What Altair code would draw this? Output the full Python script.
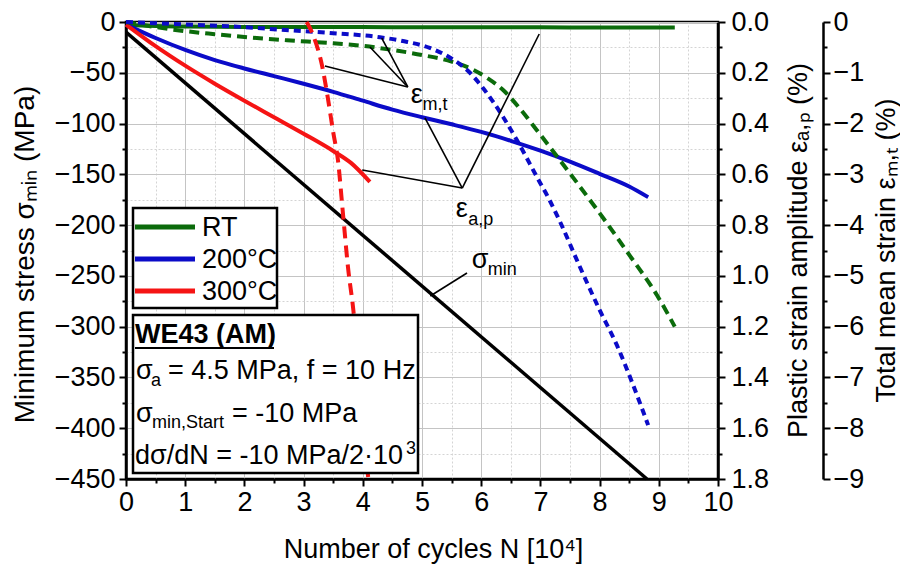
import altair as alt
import pandas as pd

FONT = "Liberation Sans"

# ---------------- data ----------------
temps = ["RT", "200°C", "300°C"]
colors = ["#0b6b0b", "#0b0bc8", "#f51414"]
dashes = [[10, 6], [7, 5], [12, 7]]

# minimum stress sigma_min (MPa) vs N [10^4]
n_sigma = [0.0, 8.8]
sigma_min = [-10.0, -450.0]

# plastic strain amplitude eps_a,p (%)
n_ap_rt = [0.0, 0.5, 1.0, 2.0, 3.0, 4.0, 5.0, 6.0, 7.0, 8.0, 9.0, 9.27]
ap_rt = [0.012, 0.016, 0.018, 0.02, 0.02, 0.02, 0.021, 0.021, 0.021, 0.022, 0.022, 0.022]
n_ap_200 = [0.0, 0.5, 1.0, 1.5, 2.0, 2.5, 3.0, 3.5, 4.0, 4.5, 5.0, 5.5, 6.0, 6.5, 7.0, 7.5, 8.0, 8.5, 8.82]
ap_200 = [0.01, 0.063, 0.11, 0.15, 0.183, 0.213, 0.243, 0.275, 0.31, 0.345, 0.375, 0.403, 0.433,
          0.468, 0.507, 0.55, 0.598, 0.648, 0.69]
n_ap_300 = [0.0, 0.5, 1.0, 1.5, 2.0, 2.5, 3.0, 3.5, 3.8, 4.12]
ap_300 = [0.01, 0.095, 0.172, 0.243, 0.31, 0.375, 0.44, 0.508, 0.555, 0.63]

# total mean strain eps_m,t (%)
n_mt_rt = [0.0, 0.5, 1.0, 1.5, 2.26, 2.72, 3.5, 4.0, 4.5, 5.0, 5.5, 5.81, 6.1, 6.37, 6.65,
           6.94, 7.25, 7.55, 8.06, 8.51, 8.97, 9.27]
mt_rt = [0.0, -0.1, -0.18, -0.24, -0.32, -0.36, -0.42, -0.47, -0.55, -0.65, -0.78, -0.91, -1.1,
         -1.34, -1.7, -2.13, -2.6, -3.06, -3.86, -4.6, -5.38, -6.0]
n_mt_200 = [0.0, 1.0, 2.0, 2.6, 3.5, 4.29, 4.7, 5.13, 5.47, 5.81, 6.03, 6.37, 6.6, 6.94, 7.16,
            7.33, 7.67, 8.0, 8.29, 8.55, 8.82]
mt_200 = [0.0, -0.05, -0.1, -0.15, -0.22, -0.3, -0.38, -0.51, -0.7, -1.0, -1.3, -1.87, -2.32,
          -3.05, -3.52, -3.93, -4.83, -5.67, -6.36, -7.1, -7.94]
n_mt_300 = [3.05, 3.1, 3.16, 3.31, 3.41, 3.5, 3.58, 3.67, 3.75, 3.84, 3.95, 4.09]
mt_300 = [0.0, -0.1, -0.26, -0.85, -1.5, -2.17, -2.72, -3.84, -4.83, -5.67, -7.1, -8.96]

# axis ticks
x_major = list(range(0, 11))
x_minor = [i + 0.5 for i in range(10)]
y_major = list(range(-450, 1, 50))
y_minor = list(range(-425, 0, 50))
ap_major = [round(0.2 * i, 1) for i in range(10)]
ap_minor = [round(0.1 + 0.2 * i, 1) for i in range(9)]
mt_major = list(range(-9, 1))
mt_minor = [-8.5 + i for i in range(9)]

# annotation pointers (N, MPa) and labels
ptr_x = [4.76, 4.76, 4.76, 5.68, 5.68, 5.68, 5.14]
ptr_y = [-64.0, -64.0, -64.0, -163.5, -163.5, -163.5, -269.8]
ptr_x2 = [3.36, 4.12, 4.32, 3.99, 5.05, 6.98, 5.76]
ptr_y2 = [-43.3, -24.6, -15.8, -145.7, -94.5, -11.8, -247.2]
lab_main = ["ε", "ε", "σ"]
lab_main_x = [4.81, 5.57, 5.84]
lab_main_y = [-79.8, -192.0, -242.2]
lab_sub = ["m,t", "a,p", "min"]
lab_sub_x = [5.01, 5.78, 6.11]
lab_sub_y = [-86.7, -199.9, -249.1]

# ---------------- tables ----------------
df_sigma = pd.DataFrame({"N": n_sigma, "sigma": sigma_min})
df_ap = pd.concat([
    pd.DataFrame({"N": n_ap_rt, "v": ap_rt, "temp": temps[0]}),
    pd.DataFrame({"N": n_ap_200, "v": ap_200, "temp": temps[1]}),
    pd.DataFrame({"N": n_ap_300, "v": ap_300, "temp": temps[2]}),
])
df_mt = pd.concat([
    pd.DataFrame({"N": n_mt_rt, "v": mt_rt, "temp": temps[0]}),
    pd.DataFrame({"N": n_mt_200, "v": mt_200, "temp": temps[1]}),
    pd.DataFrame({"N": n_mt_300, "v": mt_300, "temp": temps[2]}),
])
df_ptr = pd.DataFrame({"x": ptr_x, "y": ptr_y, "x2": ptr_x2, "y2": ptr_y2})
df_lab_main = pd.DataFrame({"x": lab_main_x, "y": lab_main_y, "t": lab_main})
df_lab_sub = pd.DataFrame({"x": lab_sub_x, "y": lab_sub_y, "t": lab_sub})
df_leg = pd.DataFrame({"temp": temps})
df_dummy = pd.DataFrame({"a": [5.0], "b": [-200.0], "c": [0.9], "d": [-4.0]})

W, H = 592, 457
xs = alt.Scale(domain=[0, 10], nice=False, zero=False)
ys_mpa = alt.Scale(domain=[-450, 0], nice=False, zero=False)
ys_ap = alt.Scale(domain=[0, 1.8], reverse=True, nice=False, zero=False)
ys_mt = alt.Scale(domain=[-9, 0], nice=False, zero=False)
color_scale = alt.Scale(domain=temps, range=colors)

GRID_MAJ = "#c4c4c4"
GRID_MIN = "#d4d4d4"

# ---------------- axes / grid layers ----------------
x_axis_layer = alt.Chart(df_dummy).mark_point(opacity=0).encode(
    x=alt.X("a:Q", scale=xs, axis=alt.Axis(
        orient="bottom", values=x_major, title="Number of cycles N [10⁴]",
        grid=True, gridColor=GRID_MAJ, gridWidth=1, tickSize=7, labelPadding=3,
        labelFlush=False, labelOverlap=False, titleX=307, titleY=78,
        titleBaseline="alphabetic", titleAlign="center")),
)
x_minor_layer = alt.Chart(df_dummy).mark_point(opacity=0).encode(
    x=alt.X("a:Q", scale=xs, axis=alt.Axis(
        orient="bottom", values=x_minor, labels=False, domain=False, title=None,
        grid=True, gridColor=GRID_MIN, gridDash=[2, 2], gridWidth=1, tickSize=4)),
)
y_minor_layer = alt.Chart(df_dummy).mark_point(opacity=0).encode(
    y=alt.Y("b:Q", scale=ys_mpa, axis=alt.Axis(
        orient="left", values=y_minor, labels=False, domain=False, title=None,
        grid=True, gridColor=GRID_MIN, gridDash=[2, 2], gridWidth=1, tickSize=4)),
)
ap_minor_layer = alt.Chart(df_dummy).mark_point(opacity=0).encode(
    y=alt.Y("c:Q", scale=ys_ap, axis=alt.Axis(
        orient="right", values=ap_minor, labels=False, domain=False, title=None,
        grid=False, tickSize=4)),
)
mt_minor_layer = alt.Chart(df_dummy).mark_point(opacity=0).encode(
    y=alt.Y("d:Q", scale=ys_mt, axis=alt.Axis(
        orient="right", offset=105, values=mt_minor, labels=False, domain=False,
        title=None, grid=False, tickSize=4)),
)

# ---------------- data layers ----------------
sigma_layer = alt.Chart(df_sigma).mark_line(color="black", strokeWidth=3.5).encode(
    x=alt.X("N:Q", scale=xs, axis=None),
    y=alt.Y("sigma:Q", scale=ys_mpa, axis=alt.Axis(
        orient="left", values=y_major, title="Minimum stress σₘᵢₙ (MPa)",
        grid=True, gridColor=GRID_MAJ, gridWidth=1, tickSize=7, labelPadding=4,
        labelOverlap=False, titleAngle=270, titleX=-93, titleY=232,
        titleAlign="center", titleBaseline="alphabetic", titleFontSize=28)),
)

ap_layer = alt.Chart(df_ap).mark_line(strokeWidth=4, interpolate="monotone").encode(
    x=alt.X("N:Q", scale=xs, axis=None),
    y=alt.Y("v:Q", scale=ys_ap, axis=alt.Axis(
        orient="right", values=ap_major, format=".1f",
        title="Plastic strain amplitude εₐ,ₚ (%)", grid=False, tickSize=7,
        labelPadding=6, labelOverlap=False, titleAngle=270, titleX=88, titleY=228,
        titleAlign="center", titleBaseline="alphabetic")),
    color=alt.Color("temp:N", scale=color_scale, legend=None),
)

mt_layer = alt.Chart(df_mt).mark_line(strokeWidth=4, interpolate="monotone").encode(
    x=alt.X("N:Q", scale=xs, axis=None),
    y=alt.Y("v:Q", scale=ys_mt, axis=alt.Axis(
        orient="right", offset=105, values=mt_major,
        title="Total mean strain εₘ,ₜ (%)", grid=False, tickSize=7,
        labelPadding=3, labelOverlap=False, titleAngle=270, titleX=71, titleY=228,
        titleAlign="center", titleBaseline="alphabetic")),
    color=alt.Color("temp:N", scale=color_scale, legend=None),
    strokeDash=alt.StrokeDash("temp:N", scale=alt.Scale(domain=temps, range=dashes), legend=None),
)

# ---------------- annotations ----------------
ptr_layer = alt.Chart(df_ptr).mark_rule(color="black", strokeWidth=1.6).encode(
    x=alt.X("x:Q", scale=xs, axis=None),
    x2="x2:Q",
    y=alt.Y("y:Q", scale=ys_mpa, axis=None),
    y2="y2:Q",
)
lab_main_layer = alt.Chart(df_lab_main).mark_text(
    font=FONT, fontSize=27, align="left", baseline="alphabetic", color="black").encode(
    x=alt.X("x:Q", scale=xs, axis=None),
    y=alt.Y("y:Q", scale=ys_mpa, axis=None),
    text="t:N",
)
lab_sub_layer = alt.Chart(df_lab_sub).mark_text(
    font=FONT, fontSize=18, align="left", baseline="alphabetic", color="black").encode(
    x=alt.X("x:Q", scale=xs, axis=None),
    y=alt.Y("y:Q", scale=ys_mpa, axis=None),
    text="t:N",
)

# ---------------- legend box ----------------
leg_box = alt.Chart(df_dummy).mark_rect(fill="white", stroke="black", strokeWidth=2.5).encode(
    x=alt.value(7), x2=alt.value(151), y=alt.value(186), y2=alt.value(286))
leg_y = alt.Y("temp:N", scale=alt.Scale(type="point", domain=temps, range=[205, 269], padding=0), axis=None)
leg_lines = alt.Chart(df_leg).mark_rule(strokeWidth=5).encode(
    x=alt.value(9), x2=alt.value(69), y=leg_y,
    color=alt.Color("temp:N", scale=color_scale, legend=None))
leg_text = alt.Chart(df_leg).mark_text(
    font=FONT, fontSize=27, align="left", baseline="middle", color="black", dy=1).encode(
    x=alt.value(76), y=leg_y, text="temp:N")

# ---------------- text box ----------------
tb_box = alt.Chart(df_dummy).mark_rect(fill="white", stroke="black", strokeWidth=2.5).encode(
    x=alt.value(7), x2=alt.value(292), y=alt.value(293), y2=alt.value(451))


def txt(s, x, y, size=27, weight="normal"):
    return alt.Chart(df_dummy).mark_text(
        text=s, font=FONT, fontSize=size, fontWeight=weight, align="left",
        baseline="alphabetic", color="black").encode(x=alt.value(x), y=alt.value(y))


tb_title = txt("WE43 (AM)", 9, 321, weight="bold")
tb_ul = alt.Chart(df_dummy).mark_rule(color="black", strokeWidth=2).encode(
    x=alt.value(9), x2=alt.value(148), y=alt.value(326))
tb_parts = [
    txt("σ", 10, 357), txt("a", 25, 364, size=18), txt("= 4.5 MPa, f = 10 Hz", 42, 357),
    txt("σ", 10, 400), txt("min,Start", 26, 406, size=18), txt("= -10 MPa", 106, 400),
    txt("dσ/dN = -10 MPa/2·10", 9, 442), txt("3", 280, 432, size=18),
]

chart = alt.layer(
    x_minor_layer, y_minor_layer, x_axis_layer, ap_minor_layer, mt_minor_layer,
    sigma_layer, ap_layer, mt_layer,
    ptr_layer, lab_main_layer, lab_sub_layer,
    leg_box, leg_lines, leg_text,
    tb_box, tb_title, tb_ul, *tb_parts,
).resolve_scale(
    x="independent", y="independent", color="shared", strokeDash="shared"
).properties(
    width=W, height=H,
    autosize=alt.AutoSizeParams(type="none"),
    padding={"left": 126, "top": 22, "right": 182, "bottom": 87},
).configure_view(
    stroke="black", strokeWidth=2.5
).configure_axis(
    labelFont=FONT, titleFont=FONT, labelFontSize=27, titleFontSize=27,
    titleFontWeight="normal", labelColor="black", titleColor="black",
    domainColor="black", tickColor="black", domainWidth=2.5, tickWidth=2,
)

chart.save("out.html", embed_options={"renderer": "svg", "actions": False})
